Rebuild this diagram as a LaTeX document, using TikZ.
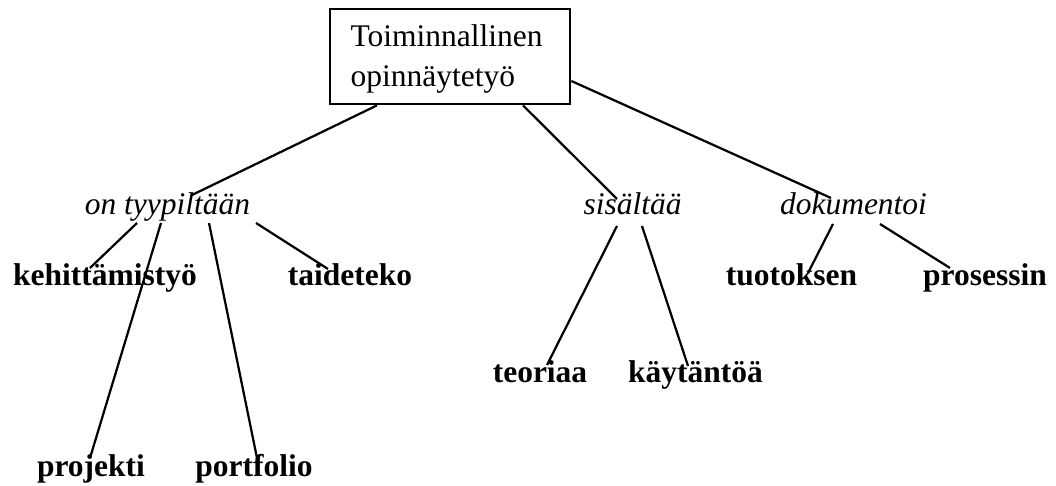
\documentclass[tikz,border=0pt]{standalone}
\usepackage{fontspec}
\setmainfont{Liberation Serif}
\begin{document}
\begin{tikzpicture}[x=0.381pt,y=-0.381pt,
  lbl/.style={inner sep=0pt, anchor=base, font=\fontsize{12}{15.24}\selectfont\bfseries},
  mid/.style={inner sep=0pt, anchor=base, font=\fontsize{12}{15.24}\selectfont\itshape},
  ttl/.style={inner sep=0pt, anchor=base west, font=\fontsize{12}{15.24}\selectfont},
  conn/.style={line width=0.85pt}]
\useasboundingbox (0,0) rectangle (1056,486);
\node[draw, line width=0.9pt, minimum width=91.44pt, minimum height=36.2pt, inner sep=0pt, anchor=north west] (top) at (329,8) {};
\node[ttl] (t1) at (350,47) {Toiminnallinen};
\node[ttl] (t2) at (350,87) {opinnäytetyö};
\node[mid] (ot) at (167.5,215) {on tyypiltään};
\node[mid] (sis) at (632.5,215) {sisältää};
\node[mid] (dok) at (853.5,215) {dokumentoi};
\node[lbl] (keh) at (105,286) {kehittämistyö};
\node[lbl] (taid) at (350,286) {taideteko};
\node[lbl] (tuot) at (791.5,286) {tuotoksen};
\node[lbl] (pros) at (985,286) {prosessin};
\node[lbl] (teo) at (540,383) {teoriaa};
\node[lbl] (kay) at (695.5,383) {käytäntöä};
\node[lbl] (proj) at (91,477) {projekti};
\node[lbl] (port) at (254,477) {portfolio};
\draw[conn] ([shift={(48,0)}]top.south west) -- ([shift={(24.5,-20)}]ot.base);
\draw[conn] ([shift={(194,0)}]top.south west) -- ([shift={(-15.5,-16)}]sis.base);
\draw[conn] ([shift={(0,73)}]top.north east) -- ([shift={(-22.5,-17)}]dok.base);
\draw[conn] ([shift={(-30.5,8)}]ot.base) -- ([shift={(-15,-18)}]keh.base);
\draw[conn] ([shift={(-6.5,8)}]ot.base) -- ([shift={(-1,-19)}]proj.base);
\draw[conn] ([shift={(41.5,8)}]ot.base) -- ([shift={(3,-19)}]port.base);
\draw[conn] ([shift={(88.5,8)}]ot.base) -- ([shift={(-22,-17)}]taid.base);
\draw[conn] ([shift={(-15.5,11)}]sis.base) -- ([shift={(7,-18)}]teo.base);
\draw[conn] ([shift={(9.5,11)}]sis.base) -- ([shift={(-7.5,-17)}]kay.base);
\draw[conn] ([shift={(-20.5,9)}]dok.base) -- ([shift={(16.5,-13)}]tuot.base);
\draw[conn] ([shift={(26.5,9)}]dok.base) -- ([shift={(-35,-18)}]pros.base);
\end{tikzpicture}
\end{document}
